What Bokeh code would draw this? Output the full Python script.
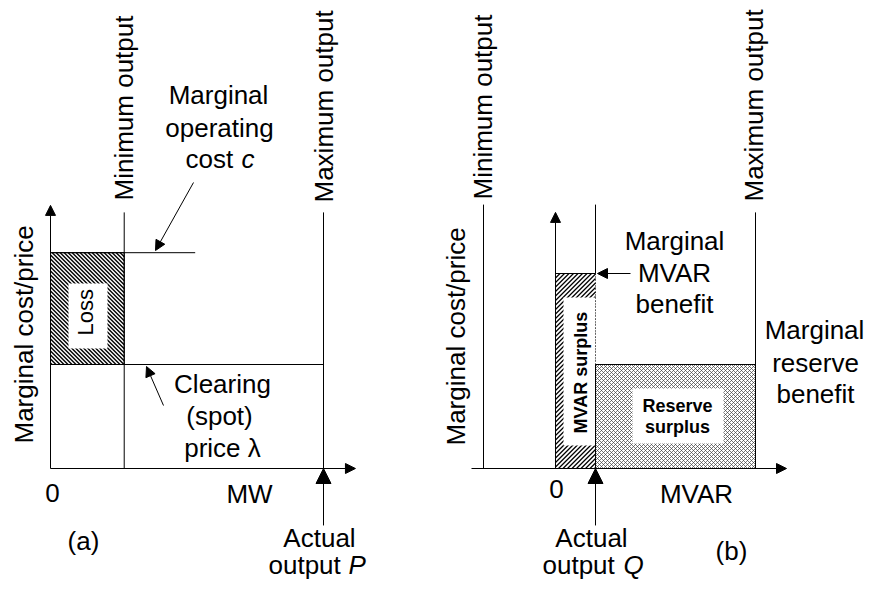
import math
from bokeh.plotting import figure
from bokeh.layouts import row
from bokeh.models import Range1d, Arrow, NormalHead
from bokeh.core.properties import value
from bokeh.embed import file_html
from bokeh.resources import INLINE

# ---------------- data (conceptual units) ----------------
# Panel (a): energy market, MW
a_min_output = 27          # MW
a_max_output = 100         # MW
a_cost_c = 83              # marginal operating cost c
a_price_lambda = 40        # clearing (spot) price lambda
a_cost_line_end = 53       # MW extent of the cost line
# Panel (b): reactive power market, MVAR
b_min_output = -36         # MVAR
b_max_output = 100         # MVAR
b_actual_q = 20            # actual output Q
b_mvar_benefit = 75        # marginal MVAR benefit
b_reserve_benefit = 40     # marginal reserve benefit

# ---------------- layout ----------------
FONT = value("Liberation Sans")
H = 580
INK = "black"
ROT = math.pi / 2


class Panel:
    def __init__(self, left_px, width, ox, oy, sx, sy):
        self.ox, self.oy, self.sx, self.sy = ox, oy, sx, sy
        p = figure(width=width, height=H, output_backend="svg", toolbar_location=None,
                   x_range=Range1d((left_px - ox) / sx, (left_px + width - ox) / sx),
                   y_range=Range1d((oy - H) / sy, oy / sy),
                   x_axis_location=None, y_axis_location=None, min_border=0,
                   background_fill_color="white", border_fill_color="white")
        p.grid.grid_line_color = None
        p.outline_line_color = None
        self.p = p

    # screen <-> data helpers
    def d(self, px, py):
        return (px - self.ox) / self.sx, (self.oy - py) / self.sy

    def s(self, x, y):
        return self.ox + x * self.sx, self.oy - y * self.sy

    def label(self, text, px, py, size=26, style="normal", align="center", angle=0.0):
        off = 0.358 * size
        if angle == 0.0:
            py -= off
        else:
            px -= off
        x, y = self.d(px, py)
        self.p.text(x=[x], y=[y], text=[text], angle=angle, text_font=FONT,
                    text_font_size=value(f"{size}px"), text_font_style=value(style),
                    text_align=value(align), text_baseline=value("middle"), text_color=INK)

    def arrow(self, x0, y0, x1, y1, size=10):
        self.p.add_layout(Arrow(end=NormalHead(size=size, fill_color=INK, line_color=INK, line_width=1),
                                x_start=x0, y_start=y0, x_end=x1, y_end=y1,
                                line_color=INK, line_width=1))

    def hatch(self, left, right, bottom, top, period, direction, width, color=INK):
        """45-degree hatch lines filling a data-space rectangle."""
        X0, Y1 = self.s(left, bottom)
        X1, Y0 = self.s(right, top)
        xs0, ys0, xs1, ys1 = [], [], [], []
        if direction == "back":      # '\' : py = px + c
            c = Y0 - X1
            while c <= Y1 - X0:
                a, b = max(X0, Y0 - c), min(X1, Y1 - c)
                if b > a:
                    for (u, v) in ((a, a + c), (b, b + c)):
                        pass
                    p0 = self.d(a, a + c); p1 = self.d(b, b + c)
                    xs0.append(p0[0]); ys0.append(p0[1]); xs1.append(p1[0]); ys1.append(p1[1])
                c += period
        else:                         # '/' : py = -px + c
            c = X0 + Y0
            while c <= X1 + Y1:
                a, b = max(X0, c - Y1), min(X1, c - Y0)
                if b > a:
                    p0 = self.d(a, c - a); p1 = self.d(b, c - b)
                    xs0.append(p0[0]); ys0.append(p0[1]); xs1.append(p1[0]); ys1.append(p1[1])
                c += period
        self.p.segment(x0=xs0, y0=ys0, x1=xs1, y1=ys1, line_color=color, line_width=width)

    def white_box(self, px0, py0, px1, py1):
        x0, y0 = self.d(px0, py1)
        x1, y1 = self.d(px1, py0)
        self.p.quad(left=[x0], right=[x1], bottom=[y0], top=[y1], fill_color="white", line_color=None)


# ======================= Panel (a) =======================
A = Panel(0, 432, 50, 468, 2.73, 2.6)
a_line_top = 98.5
a_axis_top = 101.2
a_axis_right = 111.7
arrow_tail = -21.9

# Loss area (hatched)
A.hatch(0, a_min_output, a_price_lambda, a_cost_c, 4.0, "back", 1.4)
A.white_box(68, 283, 107, 348)
A.p.quad(left=[0], right=[a_min_output], bottom=[a_price_lambda], top=[a_cost_c],
         fill_color=None, line_color=INK, line_width=1)

# lines
A.p.segment(x0=[a_min_output, a_max_output, 0, 0],
            y0=[0, 0, a_cost_c, a_price_lambda],
            x1=[a_min_output, a_max_output, a_cost_line_end, a_max_output],
            y1=[a_line_top, a_line_top, a_cost_c, a_price_lambda],
            line_color=INK, line_width=1)

# axes
A.arrow(0, 0, 0, a_axis_top, size=10)
A.arrow(0, 0, a_axis_right, 0, size=10)
A.arrow(a_max_output, arrow_tail, a_max_output, 0, size=15)

# pointer arrows
x0, y0 = A.d(193, 182); x1, y1 = A.d(155, 250)
A.arrow(x0, y0, x1, y1, size=10)
x0, y0 = A.d(163, 405); x1, y1 = A.d(146, 366)
A.arrow(x0, y0, x1, y1, size=10)

# texts
A.label("Minimum output", 133, 200, align="left", angle=ROT)
A.label("Maximum output", 333, 202, align="left", angle=ROT)
A.label("Marginal cost/price", 33, 443, align="left", angle=ROT)
A.label("Loss", 93, 335, size=22, align="left", angle=ROT)
A.label("Marginal", 218, 104)
A.label("operating", 219, 137)
A.label("cost ", 185, 168, align="left")
A.label("c", 241, 168, style="italic", align="left")
A.label("Clearing", 222, 393)
A.label("(spot)", 219, 425)
A.label("price \u03bb", 222, 457)
A.label("0", 52, 502)
A.label("MW", 249, 503)
A.label("(a)", 83, 550)
A.label("Actual", 319, 547)
A.label("output ", 268, 574, align="left")
A.label("P", 348, 574, style="italic", align="left")

# ======================= Panel (b) =======================
B = Panel(432, 433, 555, 468, 2.0, 2.6)
b_axis_top = 98.5
b_line_top = 101.5
b_max_top = 98.5
b_axis_left = -42
b_axis_right = 115.5

# MVAR surplus (hatched)
B.hatch(0, b_actual_q, 0, b_mvar_benefit, 4.5, "fwd", 1.3)
B.white_box(563, 297, 595, 445)

# Reserve surplus (cross-hatched)
B.hatch(b_actual_q, b_max_output, 0, b_reserve_benefit, 4.0, "fwd", 0.7, "#444444")
B.hatch(b_actual_q, b_max_output, 0, b_reserve_benefit, 4.0, "back", 0.7, "#444444")
B.white_box(632, 388, 723, 443)
B.p.quad(left=[b_actual_q], right=[b_max_output], bottom=[0], top=[b_reserve_benefit],
         fill_color=None, line_color=INK, line_width=1)

# lines
B.p.segment(x0=[b_min_output, b_actual_q, b_max_output, 0],
            y0=[0, b_mvar_benefit, 0, b_mvar_benefit],
            x1=[b_min_output, b_actual_q, b_max_output, b_actual_q],
            y1=[b_line_top, b_line_top, b_max_top, b_mvar_benefit],
            line_color=INK, line_width=1)
B.p.segment(x0=[b_actual_q], y0=[b_reserve_benefit], x1=[b_actual_q], y1=[b_mvar_benefit],
            line_color=INK, line_width=1, line_dash="1 2")

# axes
B.arrow(0, 0, 0, b_axis_top, size=10)
B.arrow(b_axis_left, 0, b_axis_right, 0, size=10)
B.arrow(b_actual_q, arrow_tail, b_actual_q, 0, size=15)

# pointer arrow
x0, _ = B.d(630, 273)
B.arrow(x0, b_mvar_benefit, b_actual_q + 1, b_mvar_benefit, size=10)

# texts
B.label("Minimum output", 492, 199, align="left", angle=ROT)
B.label("Maximum output", 763, 201, align="left", angle=ROT)
B.label("Marginal cost/price", 465, 445, align="left", angle=ROT)
B.label("MVAR surplus", 587, 433, size=18, style="bold", align="left", angle=ROT)
B.label("Marginal", 674, 250)
B.label("MVAR", 674, 282)
B.label("benefit", 674, 313)
B.label("Reserve", 677, 412, size=18, style="bold")
B.label("surplus", 677, 433, size=18, style="bold")
B.label("Marginal", 814, 339)
B.label("reserve", 815, 372)
B.label("benefit", 815, 403)
B.label("0", 556, 498)
B.label("MVAR", 696, 503)
B.label("Actual", 591, 547)
B.label("output ", 542, 574, align="left")
B.label("Q", 623, 574, style="italic", align="left")
B.label("(b)", 731, 560)

layout = row(A.p, B.p)
open("out.html", "w").write(file_html(layout, INLINE))
